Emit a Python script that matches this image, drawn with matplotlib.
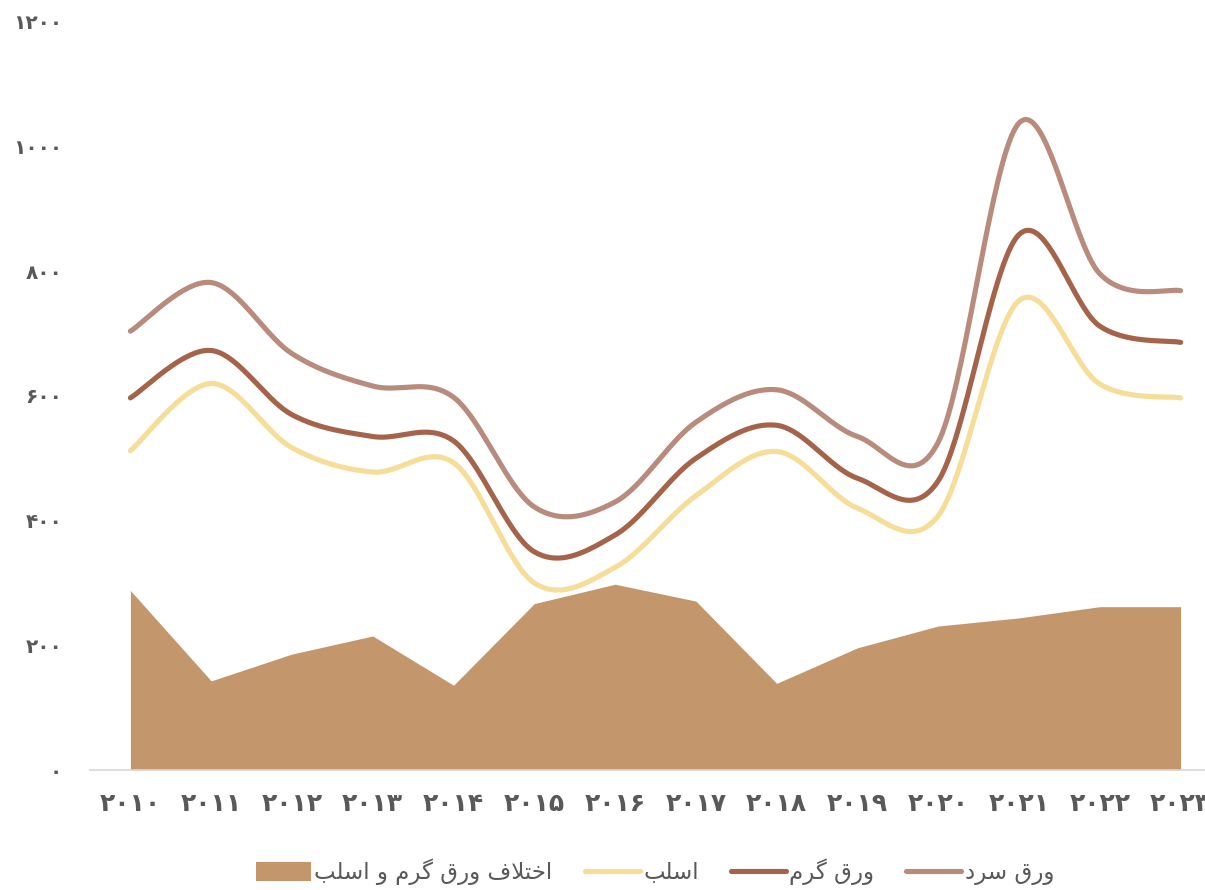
import numpy as np
import matplotlib
matplotlib.use('Agg')
import matplotlib.pyplot as plt
from matplotlib.lines import Line2D
from matplotlib.patches import Patch

years = ['2010', '2011', '2012', '2013', '2014', '2015', '2016',
         '2017', '2018', '2019', '2020', '2021', '2022', '2023']
cold_sheet = [704, 782, 668, 616, 598, 422, 430, 558, 610, 535, 526, 1038, 796, 769]
hot_sheet = [597, 673, 570, 535, 528, 350, 377, 500, 553, 468, 464, 859, 712, 686]
slab = [512, 620, 517, 478, 493, 300, 325, 440, 511, 420, 408, 753, 619, 597]
spread = [288, 143, 186, 215, 136, 267, 298, 271, 139, 196, 231, 244, 262, 262]

labels = {
    'cold': 'ورق سرد',
    'hot': 'ورق گرم',
    'slab': 'اسلب',
    'spread': 'اختلاف ورق گرم و اسلب',
}
y_ticks = [0, 200, 400, 600, 800, 1000, 1200]

# contextual forms: isolated, final, initial, medial
FORMS = {
    'ا': ('\uFE8D', '\uFE8E', None, None),
    'ب': ('\uFE8F', '\uFE90', '\uFE91', '\uFE92'),
    'ت': ('\uFE95', '\uFE96', '\uFE97', '\uFE98'),
    'خ': ('\uFEA5', '\uFEA6', '\uFEA7', '\uFEA8'),
    'د': ('\uFEA9', '\uFEAA', None, None),
    'ر': ('\uFEAD', '\uFEAE', None, None),
    'س': ('\uFEB1', '\uFEB2', '\uFEB3', '\uFEB4'),
    'ف': ('\uFED1', '\uFED2', '\uFED3', '\uFED4'),
    'ق': ('\uFED5', '\uFED6', '\uFED7', '\uFED8'),
    'ل': ('\uFEDD', '\uFEDE', '\uFEDF', '\uFEE0'),
    'م': ('\uFEE1', '\uFEE2', '\uFEE3', '\uFEE4'),
    'و': ('\uFEED', '\uFEEE', None, None),
    'گ': ('\uFB92', '\uFB93', '\uFB94', '\uFB95'),
}
LAM_ALEF = ('\uFEFB', '\uFEFC')


def joins_next(ch):
    return ch in FORMS and FORMS[ch][2] is not None


def shape(text):
    # pick joined glyph forms, then reverse into visual order
    out = []
    i = 0
    while i < len(text):
        ch = text[i]
        prev = text[i - 1] if i > 0 else ' '
        nxt = text[i + 1] if i + 1 < len(text) else ' '
        if ch not in FORMS:
            out.append(ch)
            i += 1
            continue
        linked_prev = joins_next(prev)
        if ch == 'ل' and nxt == 'ا':
            out.append(LAM_ALEF[1] if linked_prev else LAM_ALEF[0])
            i += 2
            continue
        linked_next = joins_next(ch) and nxt in FORMS
        iso, fin, ini, med = FORMS[ch]
        if linked_prev and linked_next:
            out.append(med)
        elif linked_prev:
            out.append(fin)
        elif linked_next:
            out.append(ini)
        else:
            out.append(iso)
        i += 1
    return ''.join(reversed(out))


def fa_digits(s):
    return str(s).translate(str.maketrans('0123456789', '۰۱۲۳۴۵۶۷۸۹'))


def smooth(y, n=40):
    # cubic bezier through each point, excel-like smoothing
    y = np.asarray(y, dtype=float)
    x = np.arange(len(y), dtype=float)
    px = np.concatenate([[x[0]], x, [x[-1]]])
    py = np.concatenate([[y[0]], y, [y[-1]]])
    xs, ys = [], []
    t = np.linspace(0, 1, n)
    for i in range(len(y) - 1):
        p0 = np.array([x[i], y[i]])
        p3 = np.array([x[i + 1], y[i + 1]])
        p1 = p0 + (np.array([px[i + 2], py[i + 2]]) - np.array([px[i], py[i]])) / 6
        p2 = p3 - (np.array([px[i + 3], py[i + 3]]) - np.array([px[i + 1], py[i + 1]])) / 6
        b = ((1 - t) ** 3)[:, None] * p0 + (3 * (1 - t) ** 2 * t)[:, None] * p1 \
            + (3 * (1 - t) * t ** 2)[:, None] * p2 + (t ** 3)[:, None] * p3
        xs.append(b[:, 0])
        ys.append(b[:, 1])
    return np.concatenate(xs), np.concatenate(ys)


c_cold = '#b88b7d'
c_hot = '#a5644a'
c_slab = '#f6dd98'
c_spread = '#c3966b'
txt = '#595959'
lw = 3.7

fig = plt.figure(figsize=(12.05, 8.9), dpi=100)
ax = fig.add_axes([90 / 1205, 120 / 890, 1131 / 1205, 748 / 890])

x = np.arange(len(years))
ax.fill_between(x, 0, spread, color=c_spread, linewidth=0, zorder=1)
for vals, col in [(slab, c_slab), (hot_sheet, c_hot), (cold_sheet, c_cold)]:
    sx, sy = smooth(vals)
    ax.plot(sx, sy, color=col, lw=lw, solid_capstyle='round', zorder=3)

ax.set_xlim(-0.5, len(years) - 0.5)
ax.set_ylim(0, 1200)
ax.set_xticks(x)
ax.set_xticklabels([fa_digits(y) for y in years], fontsize=18, fontweight='bold',
                   color=txt, family='DejaVu Sans')
ax.set_yticks(y_ticks)
ax.set_yticklabels([fa_digits(v) for v in y_ticks], fontsize=14.5, fontweight='bold',
                   color=txt, family='DejaVu Sans')
ax.tick_params(axis='x', length=0, pad=16)
ax.tick_params(axis='y', length=0, pad=20)
for s in ['top', 'right', 'left']:
    ax.spines[s].set_visible(False)
ax.spines['bottom'].set_color('#d9d9d9')
ax.spines['bottom'].set_linewidth(1.2)

handles = [
    Patch(facecolor=c_spread, edgecolor='none'),
    Line2D([], [], color=c_slab, lw=lw, solid_capstyle='round'),
    Line2D([], [], color=c_hot, lw=lw, solid_capstyle='round'),
    Line2D([], [], color=c_cold, lw=lw, solid_capstyle='round'),
]
names = [shape(labels[k]) for k in ['spread', 'slab', 'hot', 'cold']]
leg = fig.legend(handles, names, loc='center', bbox_to_anchor=(655 / 1205, 1 - 872 / 890),
                 ncol=4, frameon=False, handlelength=2.4, handleheight=0.9,
                 handletextpad=0.15, columnspacing=1.4,
                 prop={'family': 'DejaVu Sans', 'size': 16.5})
for t in leg.get_texts():
    t.set_color(txt)

fig.savefig('out.png', dpi=100)
